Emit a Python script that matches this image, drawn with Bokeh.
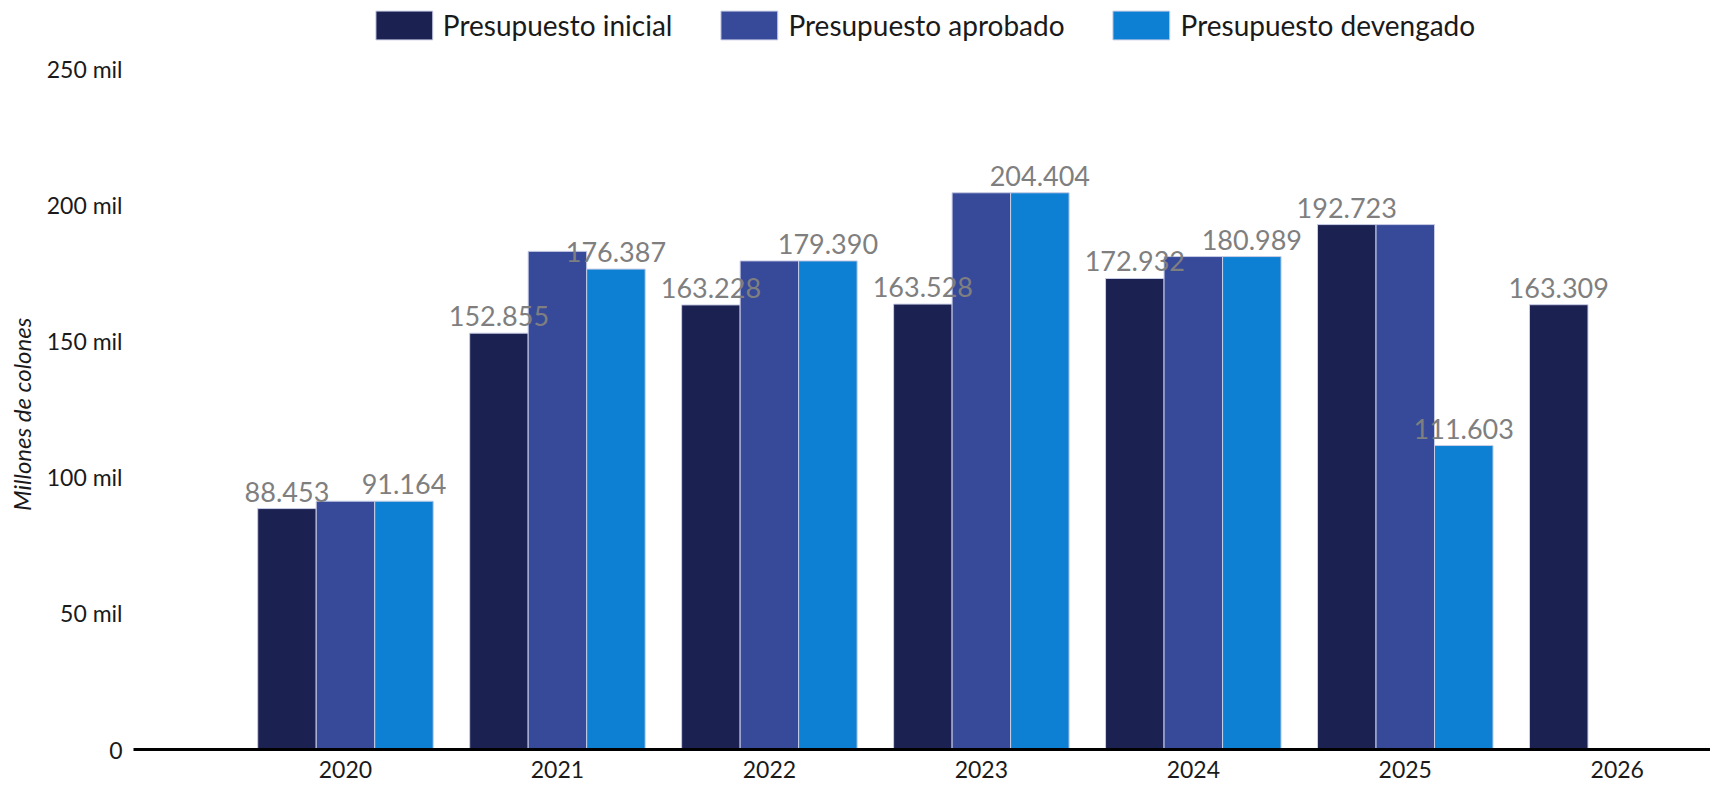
from bokeh.plotting import figure
from bokeh.models import ColumnDataSource, Range1d, FixedTicker
from bokeh.core.properties import value
from bokeh.embed import file_html
from bokeh.resources import INLINE

years = ["2020", "2021", "2022", "2023", "2024", "2025", "2026"]
inicial = [88453, 152855, 163228, 163528, 172932, 192723, 163309]
aprobado = [91164, 182900, 179390, 204404, 180989, 192723, None]
devengado = [91164, 176387, 179390, 204404, 180989, 111603, None]
series_names = ["Presupuesto inicial", "Presupuesto aprobado", "Presupuesto devengado"]
colors = ["#1b2151", "#374a9a", "#0d80d3"]
y_ticks = [0, 50000, 100000, 150000, 200000, 250000]
y_tick_labels = ["0", "50 mil", "100 mil", "150 mil", "200 mil", "250 mil"]
y_title = "Millones de colones"

FONT = "Lato"

p = figure(width=1710, height=788, output_backend="svg", toolbar_location=None,
           x_range=Range1d(-1.0, 6.44), y_range=Range1d(0, 275000),
           min_border_left=133, min_border_right=0, min_border_top=0, min_border_bottom=39)
p.outline_line_color = None
p.xgrid.visible = False
p.ygrid.visible = False
p.background_fill_color = "white"

bw = 0.276
offsets = [-bw, 0.0, bw]
all_series = [inicial, aprobado, devengado]
for name, vals, col, off in zip(series_names, all_series, colors, offsets):
    xs, ys = [], []
    for i, v in enumerate(vals):
        if v is not None:
            xs.append(i + off)
            ys.append(v)
    src = ColumnDataSource(dict(x=xs, top=ys))
    p.vbar(x="x", top="top", width=bw, bottom=0, source=src, fill_color=col,
           line_color="#c9cde6", line_width=1, legend_label=name)

# data labels on inicial and devengado
lx, ly, lt = [], [], []
for vals, off in ((inicial, offsets[0]), (devengado, offsets[2])):
    for i, v in enumerate(vals):
        if v is not None:
            lx.append(i + off)
            ly.append(v)
            lt.append(f"{v:,.0f}".replace(",", "."))
lsrc = ColumnDataSource(dict(x=lx, y=ly, t=lt))
p.text(x="x", y="y", text="t", source=lsrc, text_align="center", text_baseline="alphabetic",
       y_offset=-17, text_font=value(FONT), text_font_size=value("27px"), text_color="#7f7f7f")

# x axis
p.xaxis.ticker = FixedTicker(ticks=list(range(len(years))))
p.xaxis.major_label_overrides = {i: y for i, y in enumerate(years)}
p.xaxis.axis_line_width = 3
p.xaxis.axis_line_color = "black"
p.xaxis.major_tick_line_color = None
p.xaxis.minor_tick_line_color = None
p.xaxis.major_tick_out = 0
p.xaxis.major_tick_in = 0
p.xaxis.minor_tick_out = 0
p.xaxis.major_label_text_font = FONT
p.xaxis.major_label_text_font_size = "23px"
p.xaxis.major_label_text_color = "#1a1a1a"
p.xaxis.major_label_standoff = 11

# y axis
p.yaxis.ticker = FixedTicker(ticks=y_ticks)
p.yaxis.major_label_overrides = {t: l for t, l in zip(y_ticks, y_tick_labels)}
p.yaxis.axis_line_color = None
p.yaxis.major_tick_line_color = None
p.yaxis.minor_tick_line_color = None
p.yaxis.major_tick_out = 0
p.yaxis.major_tick_in = 0
p.yaxis.minor_tick_out = 0
p.yaxis.major_label_text_font = FONT
p.yaxis.major_label_text_font_size = "23px"
p.yaxis.major_label_text_color = "#1a1a1a"
p.yaxis.major_label_standoff = 11
# trailing no-break spaces push the centred title down to the middle of the tick span
p.yaxis.axis_label = y_title + "\u00a0" * 14
p.yaxis.axis_label_text_font = FONT
p.yaxis.axis_label_text_font_style = "italic"
p.yaxis.axis_label_text_font_size = "24px"
p.yaxis.axis_label_text_color = "#1a1a1a"
p.yaxis.axis_label_standoff = 8

# legend
lg = p.legend[0]
lg.orientation = "horizontal"
lg.location = "top_center"
lg.glyph_width = 71
lg.glyph_height = 36
lg.label_standoff = 4
lg.spacing = 41
lg.padding = 0
lg.margin = 7
lg.border_line_color = None
lg.background_fill_alpha = 0
lg.label_text_font = FONT
lg.label_text_font_size = "28px"
lg.label_text_color = "#1a1a1a"

open("out.html", "w").write(file_html(p, INLINE))
